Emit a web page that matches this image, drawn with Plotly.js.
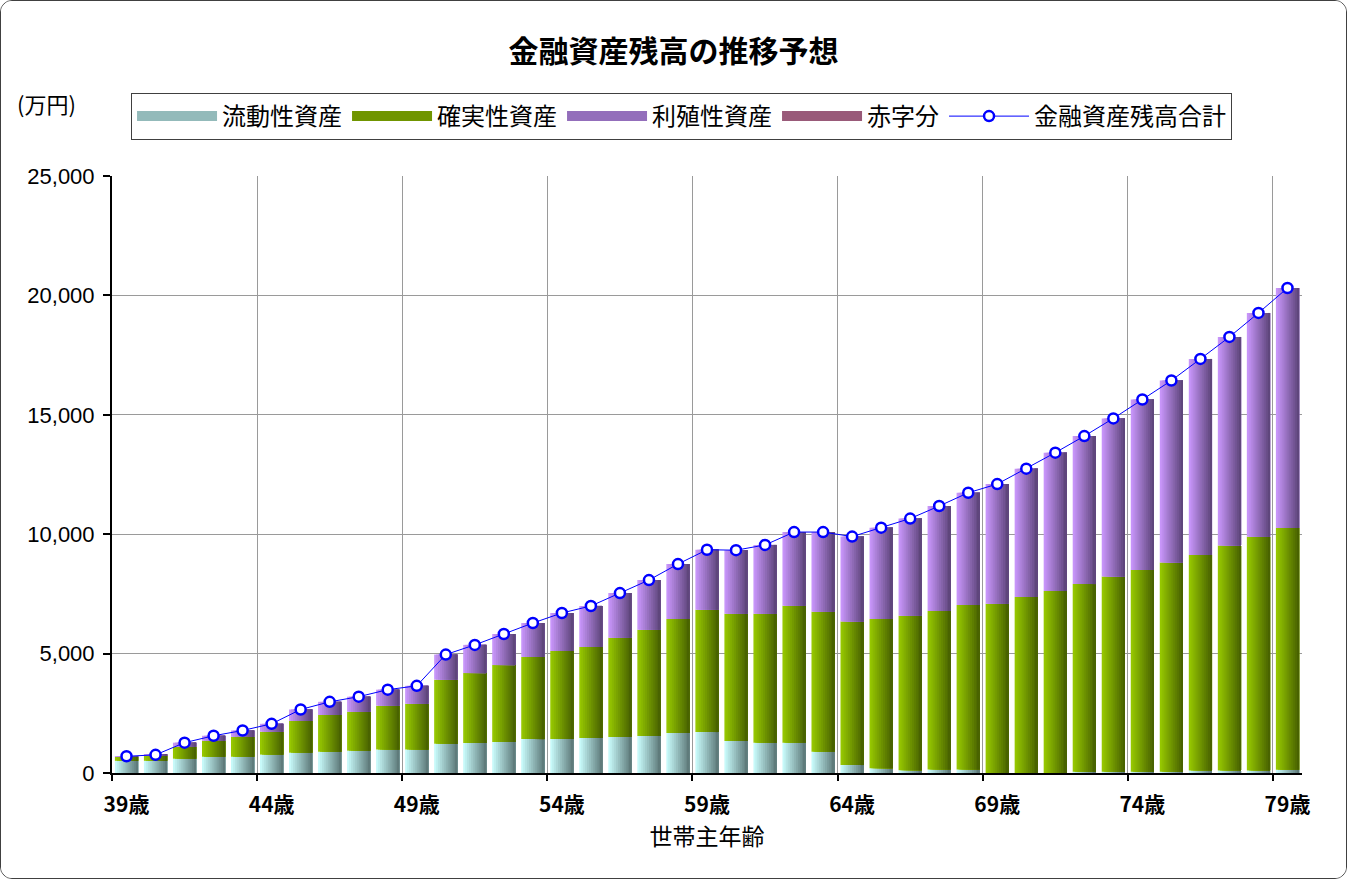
<!DOCTYPE html>
<html><head><meta charset="utf-8">
<script src="https://cdn.plot.ly/plotly-3.0.1.min.js"></script>
<style>
html,body{margin:0;padding:0;background:#fff;}
#frame{position:absolute;left:0;top:0;width:1345px;height:877px;border:1px solid #404040;border-radius:12px;overflow:hidden;background:#fff;}
#chart{width:1345px;height:877px;}
</style></head><body>
<div id="frame"><div id="chart"></div></div>
<script>
// ---- data (万円) ----
const ages = ['39歳','40歳','41歳','42歳','43歳','44歳','45歳','46歳','47歳','48歳',
  '49歳','50歳','51歳','52歳','53歳','54歳','55歳','56歳','57歳','58歳',
  '59歳','60歳','61歳','62歳','63歳','64歳','65歳','66歳','67歳','68歳',
  '69歳','70歳','71歳','72歳','73歳','74歳','75歳','76歳','77歳','78歳','79歳'];
const tickLabels = ['39歳','44歳','49歳','54歳','59歳','64歳','69歳','74歳','79歳'];
const liquid = [510,510,600,680,680,770,850,890,935,980,
  980,1220,1255,1300,1420,1425,1465,1510,1550,1675,
  1715,1340,1265,1270,895,330,200,110,150,150,
  0,0,0,55,55,55,55,100,100,100,140];
const secure = [170,240,500,670,830,960,1330,1540,1630,1840,
  1920,2690,2930,3220,3440,3685,3810,4155,4450,4775,
  5125,5330,5405,5735,5860,6010,6250,6480,6635,6885,
  7090,7370,7625,7855,8170,8450,8765,9030,9425,9795,10120];
const growth = [20,10,170,210,270,330,480,550,630,670,
  750,1050,1180,1300,1420,1590,1720,1870,2080,2300,
  2510,2660,2880,3085,3335,3560,3825,4065,4395,4700,
  5010,5375,5790,6200,6625,7135,7615,8210,8735,9370,10050];
const deficit = [0,0,0,0,0,0,0,0,0,0,0,0,0,0,0,0,0,0,0,0,0,
  0,0,0,0,0,0,0,0,0,0,0,0,0,0,0,0,0,0,0,0];
const total = [700,760,1270,1560,1780,2060,2660,2980,3195,3490,
  3650,4960,5365,5820,6280,6700,6995,7535,8080,8750,
  9350,9330,9550,10090,10090,9900,10275,10655,11180,11735,
  12100,12745,13415,14110,14850,15640,16435,17340,18260,19265,20310];
const seriesNames = ['流動性資産','確実性資産','利殖性資産','赤字分'];
const totalName = '金融資産残高合計';

// ---- styles ----
const gradients = [['#CCFFFF','#5A7575'],['#99CC00','#465E00'],['#CC99FF','#5A4276'],['#FF99CC','#331A26']];
function hex2rgb(h){return [parseInt(h.slice(1,3),16),parseInt(h.slice(3,5),16),parseInt(h.slice(5,7),16)];}
function mix(a,b,t){const A=hex2rgb(a),B=hex2rgb(b);return 'rgb('+A.map((v,i)=>Math.round(v+(B[i]-v)*t)).join(',')+')';}

const seriesVals = [liquid, secure, growth, deficit];
const bases = [
  ages.map(()=>0),
  ages.map((_,i)=>liquid[i]),
  ages.map((_,i)=>liquid[i]+secure[i]),
  ages.map(()=>0)
];

const traces = [];
// legend entries (wide swatches)
seriesNames.forEach((nm,s)=>{
  traces.push({type:'scatter',mode:'lines',x:[null],y:[null],name:nm,legendgroup:nm,
    line:{color:mix(gradients[s][0],gradients[s][1],0.5),width:15},hoverinfo:'skip'});
});
// bars drawn as horizontal-gradient strips
const N = 12, barW = 0.8;
seriesVals.forEach((vals,s)=>{
  for(let k=0;k<N;k++){
    traces.push({type:'bar',x:ages,y:vals,base:bases[s],name:seriesNames[s],legendgroup:seriesNames[s],
      showlegend:false,offset:-barW/2+k*barW/N,width:barW-k*barW/N,
      marker:{color:mix(gradients[s][0],gradients[s][1],(k+0.5)/N),line:{width:0}},
      hoverinfo:'skip'});
  }
});
// total line
traces.push({type:'scatter',mode:'lines+markers',x:ages,y:total,name:totalName,
  line:{color:'#0000FF',width:1},
  marker:{symbol:'circle',size:10,color:'#FFFFFF',line:{color:'#0000FF',width:2.5}}});
// dummy for boundary grid axis
traces.push({type:'scatter',x:[null],y:[null],xaxis:'x2',yaxis:'y',showlegend:false,hoverinfo:'skip'});

const boundaries = [-0.5,4.5,9.5,14.5,19.5,24.5,29.5,34.5,39.5];

const layout = {
  width:1345,height:877,
  margin:{l:111,r:44,t:175,b:105},
  paper_bgcolor:'#fff',plot_bgcolor:'#fff',
  font:{family:'"Noto Sans CJK JP", "Noto Sans", sans-serif',color:'#000',size:20},
  barmode:'overlay',
  showlegend:true,
  title:{text:'<b>金融資産残高の推移予想</b>',font:{size:30,color:'#000'},
    x:0.5,xref:'container',xanchor:'center',y:1-50/877,yref:'container',yanchor:'middle'},
  legend:{orientation:'h',x:0.016,y:1.139,xanchor:'left',yanchor:'top',
    bordercolor:'#404040',borderwidth:1,bgcolor:'#fff',font:{size:24},itemwidth:80,
    traceorder:'normal'},
  xaxis:{type:'category',categoryarray:ages,categoryorder:'array',range:[-0.5,40.5],
    tickvals:tickLabels,ticktext:tickLabels,ticks:'',showgrid:false,zeroline:false,
    showline:true,linecolor:'#000',linewidth:2,ticklabelstandoff:12,
    tickfont:{size:21,weight:'bold',family:'"Liberation Sans Narrow","Noto Sans CJK JP",sans-serif'},
    title:{text:'世帯主年齢',font:{size:23},standoff:10}},
  xaxis2:{overlaying:'x',anchor:'y',side:'bottom',range:[-0.5,40.5],
    tickvals:boundaries,showticklabels:false,ticks:'outside',ticklen:7,tickwidth:2,tickcolor:'#000',
    showgrid:true,gridcolor:'#9A9A9A',gridwidth:1,zeroline:false,showline:false},
  yaxis:{range:[0,25000],tick0:0,dtick:5000,tickformat:',d',
    showline:true,linecolor:'#000',linewidth:2,ticks:'outside',ticklen:7,tickwidth:2,tickcolor:'#000',
    showgrid:true,gridcolor:'#9A9A9A',gridwidth:1,zeroline:false,ticklabelstandoff:4,
    tickfont:{size:22,family:'"Liberation Sans", Arial, sans-serif'}},
  annotations:[{text:'(万円)',xref:'paper',yref:'paper',x:-0.0815,y:1.1223,xanchor:'left',yanchor:'middle',
    showarrow:false,font:{size:22}}]
};

Plotly.newPlot('chart',traces,layout,{displayModeBar:false,staticPlot:false});
</script>
</body></html>
